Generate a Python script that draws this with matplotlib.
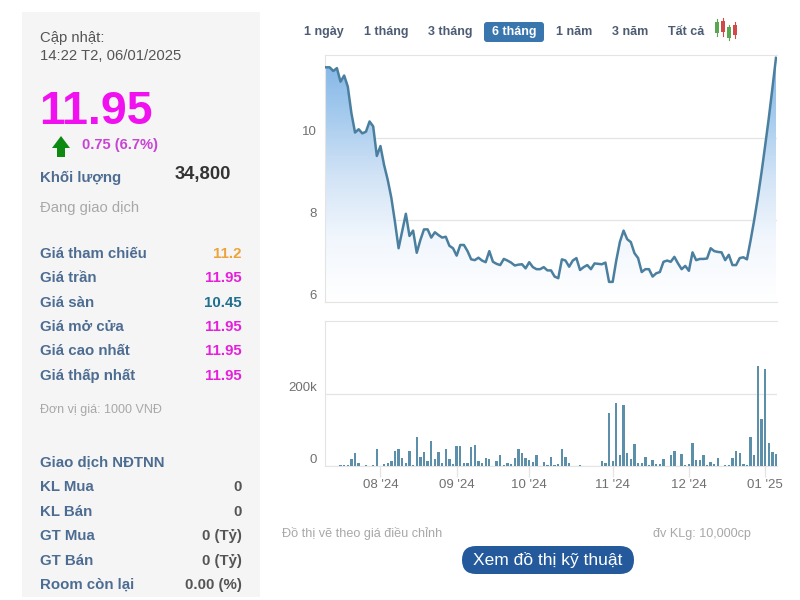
import matplotlib
matplotlib.use('Agg')
import matplotlib.pyplot as plt
import numpy as np
from matplotlib.colors import LinearSegmentedColormap
from matplotlib.patches import FancyBboxPatch, Polygon, Rectangle

plt.rcParams['font.family'] = ['Liberation Sans', 'DejaVu Sans']

prices = [
    11.72, 11.72, 11.63, 11.70, 11.37, 11.52, 11.25, 10.60, 10.13, 10.21, 10.11, 10.15, 10.40, 10.28, 9.56, 9.80,
    9.34, 8.98, 8.54, 7.95, 7.31, 7.73, 8.15, 7.61, 7.74, 7.20, 7.51, 7.77, 7.77, 7.57, 7.70, 7.63,
    7.57, 7.59, 7.37, 7.31, 7.13, 7.39, 7.39, 7.24, 7.04, 7.02, 7.08, 7.01, 6.97, 7.24, 6.98, 6.93,
    6.90, 7.05, 7.01, 6.96, 6.89, 6.91, 6.92, 6.82, 6.97, 6.85, 6.80, 6.80, 6.85, 6.77, 6.77, 6.62,
    6.58, 7.04, 7.01, 6.86, 7.01, 7.07, 6.78, 6.85, 6.90, 6.80, 6.94, 6.93, 6.92, 6.96, 6.49, 6.49,
    7.02, 7.47, 7.74, 7.53, 7.46, 7.19, 7.07, 6.73, 6.80, 6.80, 6.62, 6.70, 6.73, 6.98, 7.01, 6.98,
    7.10, 6.94, 6.80, 6.88, 6.76, 7.21, 7.02, 7.05, 7.05, 7.06, 7.31, 7.24, 7.22, 7.21, 7.02, 7.15,
    6.90, 6.90, 7.07, 7.09, 7.04, 7.50, 8.00, 8.55, 9.15, 9.80, 10.47, 11.20, 11.95,
]
volumes = [
    0, 0, 0, 0, 3, 3, 3, 19, 35, 9, 0, 3, 0, 3, 46, 0,
    5, 7, 14, 42, 46, 23, 9, 42, 3, 81, 26, 39, 13, 70, 19, 39,
    9, 46, 20, 6, 56, 56, 9, 9, 53, 58, 14, 9, 22, 20, 0, 14,
    30, 3, 9, 5, 21, 48, 35, 23, 17, 12, 30, 0, 11, 3, 26, 3,
    5, 46, 26, 7, 0, 0, 3, 0, 0, 0, 0, 0, 13, 7, 146, 13,
    176, 30, 169, 37, 20, 62, 7, 9, 26, 3, 17, 5, 6, 20, 0, 30,
    43, 0, 32, 3, 6, 65, 17, 17, 30, 3, 11, 5, 23, 0, 3, 3,
    23, 43, 37, 6, 3, 81, 30, 278, 132, 269, 65, 39, 32,
]
month_pos = [15, 36, 56, 79, 100, 121]
month_labels = ["08 '24", "09 '24", "10 '24", "11 '24", "12 '24", "01 '25"]
tabs = ['1 ngày', '1 tháng', '3 tháng', '6 tháng', '1 năm', '3 năm', 'Tất cả']
tab_x = [324, 386, 450, 514, 574, 630, 686]
price_rows = ['Giá tham chiếu', 'Giá trần', 'Giá sàn', 'Giá mở cửa', 'Giá cao nhất', 'Giá thấp nhất']
price_vals = ['11.2', '11.95', '10.45', '11.95', '11.95', '11.95']
price_cols = ['#eda33c', '#e61fdc', '#1f6f8f', '#e61fdc', '#e61fdc', '#e61fdc']
price_y = [254, 278, 303, 327, 351, 376]
foreign_rows = ['KL Mua', 'KL Bán', 'GT Mua', 'GT Bán', 'Room còn lại']
foreign_vals = ['0', '0', '0 (Tỷ)', '0 (Tỷ)', '0.00 (%)']
foreign_y = [487, 512, 536, 561, 585]

LABEL = '#4d6c92'
GREY = '#a8a8a8'
AXIS = '#e4e4e4'
TICK = '#707070'
LINE = '#4b7f9f'
BAR = '#5c90aa'


def pixel_axes(fig, left, top, right, bottom):
    return fig.add_axes([left / 800, 1 - bottom / 600, (right - left) / 800, (bottom - top) / 600])


fig = plt.figure(figsize=(8, 6), dpi=100)

# page layer in pixel coordinates
bg = fig.add_axes([0, 0, 1, 1])
bg.set_xlim(0, 800)
bg.set_ylim(600, 0)
bg.axis('off')
bg.add_patch(Rectangle((22, 12), 238, 585, color='#f5f5f5', lw=0))

bg.text(40, 38, 'Cập nhật:', fontsize=10.7, color='#555555', va='center')
bg.text(40, 56, '14:22 T2, 06/01/2025', fontsize=10.7, color='#555555', va='center')
bg.text(39, 112, '11.95', fontsize=33.5, fontweight='bold', color='#f010f0', va='center')
bg.add_patch(Polygon([(52, 148), (61, 136), (70, 148), (65, 148), (65, 157), (57, 157), (57, 148)],
                     color='#0d8a12', lw=0))
bg.text(82, 145, '0.75 (6.7%)', fontsize=10.6, fontweight='bold', color='#c844d4', va='center')
bg.text(40, 178, 'Khối lượng', fontsize=10.8, fontweight='bold', color=LABEL, va='center')
bg.text(231, 175, '34,800', fontsize=13.2, fontweight='bold', color='#333333', va='center', ha='right')
bg.text(40, 208, 'Đang giao dịch', fontsize=10.6, color=GREY, va='center')
bg.text(40, 410, 'Đơn vị giá: 1000 VNĐ', fontsize=9, color=GREY, va='center')

for label, val, col, y in zip(price_rows, price_vals, price_cols, price_y):
    bg.text(40, y, label, fontsize=10.8, fontweight='bold', color=LABEL, va='center')
    bg.text(242, y, val, fontsize=10.8, fontweight='bold', color=col, va='center', ha='right')

bg.text(40, 463, 'Giao dịch NĐTNN', fontsize=10.8, fontweight='bold', color=LABEL, va='center')
for label, val, y in zip(foreign_rows, foreign_vals, foreign_y):
    bg.text(40, y, label, fontsize=10.8, fontweight='bold', color=LABEL, va='center')
    bg.text(242, y, val, fontsize=10.8, fontweight='bold', color='#555555', va='center', ha='right')

# period tabs
bg.add_patch(FancyBboxPatch((486, 24), 56, 16, boxstyle='round,pad=2,rounding_size=3', color='#3a76ae', lw=0))
for name, x in zip(tabs, tab_x):
    active = name == '6 tháng'
    bg.text(x, 32, name, fontsize=9, fontweight='bold', color='white' if active else '#4c5c74',
            ha='center', va='center')

# candle icon
for x, wick_top, wick_bot, body_top, body_bot, col in [
    (717, 19, 36, 22, 33, '#58a84f'), (723, 18, 36, 21, 32, '#cf4a4a'),
    (729, 25, 40, 27, 38, '#58a84f'), (735, 22, 38, 25, 35, '#cf4a4a'),
]:
    bg.plot([x, x], [wick_top, wick_bot], color=col, lw=0.8)
    bg.add_patch(Rectangle((x - 2, body_top), 4, body_bot - body_top, color=col, lw=0))

# footer
bg.text(282, 534, 'Đồ thị vẽ theo giá điều chỉnh', fontsize=9.1, color=GREY, va='center')
bg.text(653, 534, 'đv KLg: 10,000cp', fontsize=9.1, color=GREY, va='center')
bg.add_patch(FancyBboxPatch((462, 546), 172, 28, boxstyle='round,pad=0,rounding_size=14', color='#245a9c', lw=0))
bg.text(548, 560, 'Xem đồ thị kỹ thuật', fontsize=12.5, color='white', ha='center', va='center')

idx = np.arange(len(prices))
x_min, x_max = -0.28, 124.28

# price panel
ax = pixel_axes(fig, 325, 55, 777, 302)
ax.patch.set_alpha(0)
y_min, y_max = 6.0, 12.02
cmap = LinearSegmentedColormap.from_list('fade', ['#ffffff', '#f2f7fd', '#d3e4f6', '#a6cbee', '#7fb4e6'])
grad = np.linspace(1, 0, 256).reshape(-1, 1)
im = ax.imshow(grad, extent=[x_min, x_max, y_min, y_max], aspect='auto', cmap=cmap, zorder=1)
fill = ax.fill_between(idx, prices, y_min, color='none', lw=0)
im.set_clip_path(fill.get_paths()[0], transform=ax.transData)
ax.plot(idx, prices, color=LINE, lw=1.8, zorder=3)
ax.set_xlim(x_min, x_max)
ax.set_ylim(y_min, y_max)
ax.set_xticks([])
ax.set_yticks([6, 8, 10])
ax.set_yticklabels(['6', '8', '10'], va='bottom')
ax.tick_params(axis='y', length=0, pad=6, labelsize=9.5, labelcolor=TICK)
ax.set_axisbelow(True)
ax.grid(axis='y', color=AXIS, lw=0.9)
ax.spines['right'].set_visible(False)
for side in ['left', 'top', 'bottom']:
    ax.spines[side].set_color(AXIS)

# volume panel
ax2 = pixel_axes(fig, 325, 321, 777, 466)
ax2.patch.set_alpha(0)
ax2.bar(idx, volumes, width=0.65, color=BAR, zorder=3)
ax2.set_xlim(x_min, x_max)
ax2.set_ylim(0, 403)
ax2.set_yticks([0, 200])
ax2.set_yticklabels(['0', '200k'], va='bottom')
ax2.set_xticks(month_pos)
ax2.set_xticklabels(month_labels)
ax2.tick_params(axis='y', length=0, pad=6, labelsize=9.5, labelcolor=TICK)
ax2.tick_params(axis='x', length=8, width=0.9, color=AXIS, pad=1, labelsize=9.5, labelcolor=TICK)
ax2.set_axisbelow(True)
ax2.grid(axis='y', color=AXIS, lw=0.9)
ax2.spines['right'].set_visible(False)
for side in ['left', 'top', 'bottom']:
    ax2.spines[side].set_color(AXIS)

fig.savefig('out.png', dpi=100)
